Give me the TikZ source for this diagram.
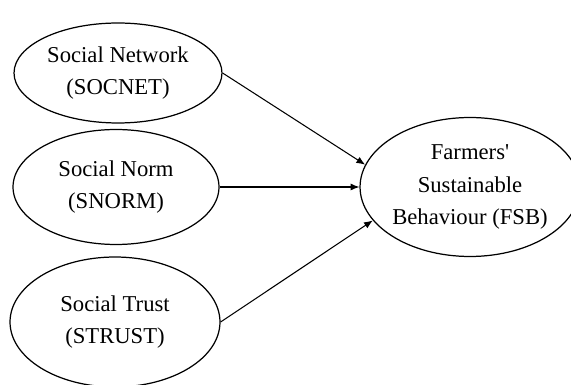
\documentclass[tikz,border=0pt]{standalone}
\usepackage{fontspec}
\setmainfont{Liberation Serif}
\usetikzlibrary{shapes.geometric,arrows.meta}

\begin{document}
\begin{tikzpicture}[x=0.02cm,y=0.02cm,
    construct/.style={draw,ellipse,line width=0.7pt,inner sep=0pt,align=center,
        font=\fontsize{12.9}{18.7}\selectfont},
    path/.style={-{Latex[length=5pt,width=4pt]},line width=0.6pt}]
    \useasboundingbox (0,0) rectangle (571,385);

    \node[construct,minimum width=4.16cm,minimum height=2.0cm] (socnet) at (118,312) {Social Network\\(SOCNET)};
    \node[construct,minimum width=4.12cm,minimum height=2.3cm] (snorm) at (116,198) {Social Norm\\(SNORM)};
    \node[construct,minimum width=4.2cm,minimum height=2.6cm] (strust) at (115,63) {Social Trust\\(STRUST)};
    \node[construct,minimum width=4.24cm,minimum height=2.78cm] (fsb) at (470,198) {Farmers\textquotesingle\\Sustainable\\Behaviour (FSB)};

    \draw[path] (socnet.east) -- (fsb.168);
    \draw[path] (snorm.east) -- (fsb.west);
    \draw[path] (strust.east) -- (fsb.199);
\end{tikzpicture}
\end{document}
